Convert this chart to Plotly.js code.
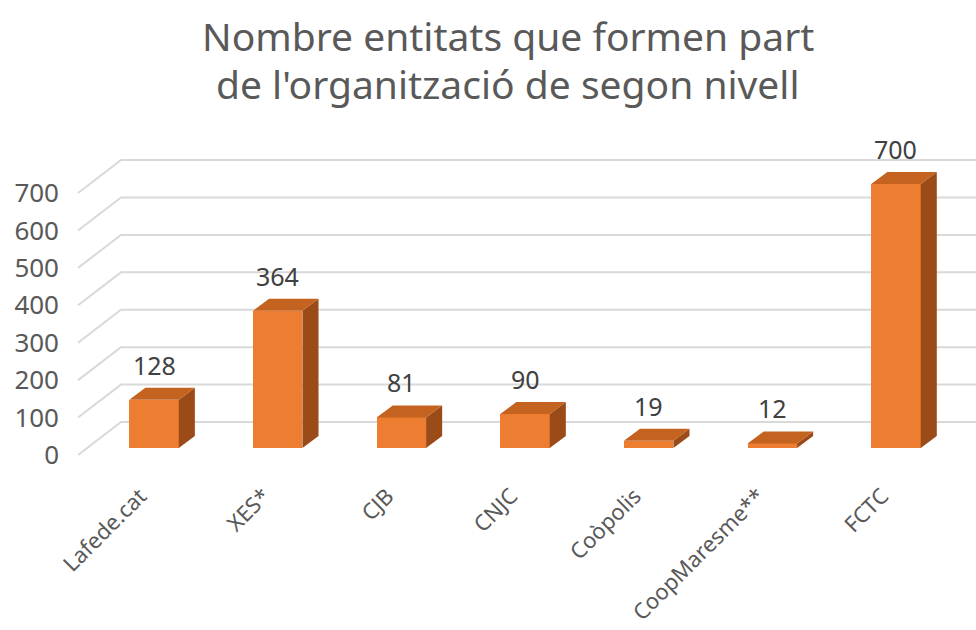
<!DOCTYPE html>
<html>
<head>
<meta charset="utf-8">
<script src="https://cdn.plot.ly/plotly-3.0.1.min.js"></script>
<style>html,body{margin:0;padding:0;background:#fff;}#chart{width:976px;height:630px;}</style>
</head>
<body>
<div id="chart"></div>
<script>
// ---- data ----
const categories = ["Lafede.cat", "XES*", "CJB", "CNJC", "Coòpolis", "CoopMaresme**", "FCTC"];
const values = [128, 364, 81, 90, 19, 12, 700];
const tickValues = [0, 100, 200, 300, 400, 500, 600, 700];
const tickLabels = ["0", "100", "200", "300", "400", "500", "600", "700"];
const titleLines = ["Nombre entitats que formen part", "de l'organització de segon nivell"];

// ---- styling constants (pseudo-3D) ----
const W = 0.40;      // bar front width (x units)
const DX = 0.13;     // depth offset in x units
const DY = 32;       // depth offset in y2 units
const GRID_DY = 88;  // back-wall offset of gridlines (y units)

const xs = categories.map((c, i) => i);

// side and top faces
const sideX = [], sideY = [], topX = [], topY = [];
xs.forEach((x, i) => {
  const v = values[i];
  const r = x + W / 2, l = x - W / 2;
  sideX.push(r, r + DX, r + DX, r, r, null);
  sideY.push(0, DY, v + DY, v, 0, null);
  topX.push(l, l + DX, r + DX, r, l, null);
  topY.push(v, v + DY, v + DY, v, v, null);
});

const traces = [
  {type: "bar", x: xs, y: values, width: W, yaxis: "y2",
   marker: {color: "#ED7D31", line: {width: 0}}, hoverinfo: "x+y", showlegend: false},
  {type: "scatter", x: sideX, y: sideY, yaxis: "y2", mode: "lines", fill: "toself",
   fillcolor: "#9A4B18", line: {width: 0, color: "#9A4B18"}, hoverinfo: "skip", showlegend: false},
  {type: "scatter", x: topX, y: topY, yaxis: "y2", mode: "lines", fill: "toself",
   fillcolor: "#C4621F", line: {width: 0, color: "#C4621F"}, hoverinfo: "skip", showlegend: false}
];

// gridlines on back wall with diagonal side wall segment
const gx0 = 0.0197, gx1 = 0.0666;
const shapes = tickValues.map(v => ({
  type: "path", xref: "paper", yref: "y", layer: "below",
  path: `M ${gx0} ${v} L ${gx1} ${v + GRID_DY} L 1 ${v + GRID_DY}`,
  line: {color: "#D9D9D9", width: 2}
}));

const annotations = xs.map((x, i) => ({
  x: x, y: values[i] + DY, xref: "x", yref: "y2",
  text: String(values[i]), showarrow: false, yanchor: "bottom", yshift: 4,
  font: {family: "Noto Sans", size: 25, color: "#404040"}
}));
const titleY = [1.328, 1.178];
titleLines.forEach((t, i) => annotations.push({
  x: 0.489, y: titleY[i], xref: "paper", yref: "paper", xanchor: "center", yanchor: "middle",
  text: t, showarrow: false,
  font: {family: "Noto Sans", size: 39, color: "#595959"}
}));

const layout = {
  width: 976, height: 630,
  margin: {l: 60, r: 0, t: 140, b: 170},
  paper_bgcolor: "#ffffff", plot_bgcolor: "rgba(0,0,0,0)",
  xaxis: {
    range: [-0.7605, 6.647], tickvals: xs, ticktext: categories, tickangle: -45,
    showgrid: false, zeroline: false, showline: false, ticks: "",
    ticklabelstandoff: 18, ticklabelshift: -14,
    tickfont: {family: "Noto Sans", size: 22, color: "#595959"}
  },
  yaxis: {
    range: [-13.4, 841.6], tickvals: tickValues, ticktext: tickLabels,
    showgrid: false, zeroline: false, showline: false, ticks: "",
    tickfont: {family: "Noto Sans", size: 26, color: "#595959"}
  },
  yaxis2: {
    overlaying: "y", range: [-31.8, 817], visible: false, showgrid: false, zeroline: false
  },
  shapes: shapes,
  annotations: annotations,
  bargap: 0
};

Plotly.newPlot("chart", traces, layout, {displayModeBar: false, staticPlot: true});
</script>
</body>
</html>
